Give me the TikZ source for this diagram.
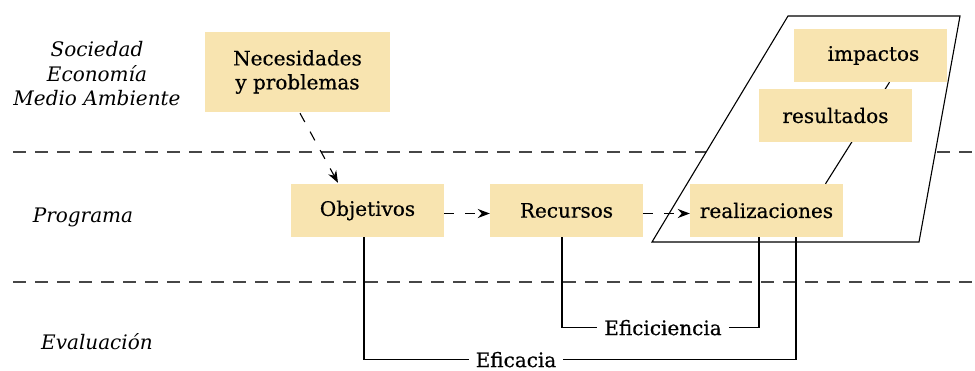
\documentclass[tikz,border=0pt]{standalone}
\usepackage{fontspec}
\setmainfont{DejaVu Serif}
\newfontfamily\boxfont{DejaVu Serif}[FakeBold=0.5]
\usetikzlibrary{arrows.meta,calc}
\definecolor{boxfill}{RGB}{248,228,176}
\definecolor{sepgray}{RGB}{70,70,70}
\tikzset{
  box/.style={fill=boxfill, inner sep=0pt, minimum width=153pt, minimum height=53pt, font=\boxfont\fontsize{20}{24}\selectfont, align=center},
  lab/.style={font=\fontsize{20}{24.5}\selectfont\itshape, align=center},
  sepline/.style={draw=sepgray, line width=1.3pt, dash pattern=on 13pt off 9pt},
  flow/.style={draw=black, line width=1.1pt, dash pattern=on 10pt off 11pt, -{Stealth[length=12pt,width=9pt]}},
  link/.style={draw=black, line width=1.1pt},
  eval/.style={font=\boxfont\fontsize{20}{24}\selectfont, inner sep=7pt, text depth=0pt},
}
\begin{document}
\begin{tikzpicture}[x=1pt,y=-1pt]
\useasboundingbox (0,0) rectangle (975,370);
% separators
\coordinate (s1a) at (13,152); \coordinate (s1b) at (975,152);
\coordinate (s2a) at (13,282); \coordinate (s2b) at (975,282);
\draw[sepline] (s1a) -- (s1b);
\draw[sepline] (s2a) -- (s2b);
% left labels
\node[lab] (soc) at (97,74) {Sociedad\\Economía\\Medio Ambiente};
\node[lab] (prog) at (83,217) {Programa};
\node[lab] (evalu) at (97,342) {Evaluación};
% parallelogram
\coordinate (p1) at (788,16); \coordinate (p2) at (960,16);
\coordinate (p3) at (919,242); \coordinate (p4) at (652,242);
\draw[link, fill=white] (p1) -- (p2) -- (p3) -- (p4) -- cycle;
% boxes
\node[box, minimum width=185pt, minimum height=80pt] (nec) at (297.5,72) {Necesidades\\y problemas};
\node[box] (obj) at (367.5,210.5) {Objetivos};
\node[box] (rec) at (566.5,210.5) {Recursos};
\node[box] (real) at (766.5,210.5) {realizaciones};
\node[box] (imp) at (870.5,55.5) {\hspace*{6pt}impactos};
\draw[link] ($(real.north)+(59,0)$) -- ($(imp.south)+(19,0)$);
\node[box] (res) at (835.5,115.5) {resultados};
% flows
\draw[flow] ($(nec.south)+(2.5,1)$) -- ($(obj.north)+(-29.5,-1)$);
\draw[flow] ($(obj.east)+(0,3)$) -- ($(rec.west)+(0,3)$);
\draw[flow] ($(rec.east)+(0,3)$) -- ($(real.west)+(0,3)$);
% evaluation
\node[eval] (efc) at (516,359.5) {Eficacia};
\node[eval] (efi) at (663,327.5) {Eficiciencia};
\draw[link] ($(obj.south)+(-3.5,0)$) |- (efc.west);
\draw[link] (efc.east) -| ($(real.south)+(29.5,0)$);
\draw[link] ($(rec.south)+(-4.5,0)$) |- (efi.west);
\draw[link] (efi.east) -| ($(real.south)+(-7.5,0)$);
\end{tikzpicture}
\end{document}
